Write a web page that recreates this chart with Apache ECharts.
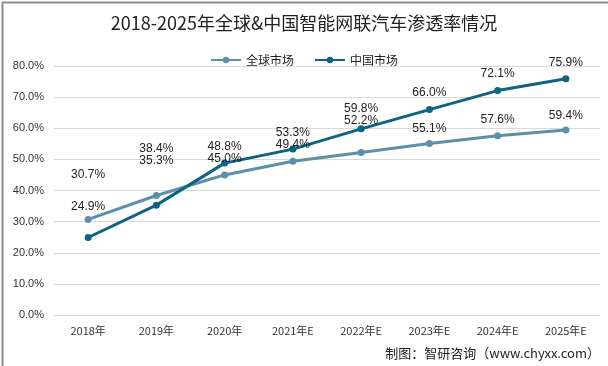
<!DOCTYPE html>
<html><head><meta charset="utf-8">
<script src="https://cdn.jsdelivr.net/npm/echarts@6/dist/echarts.min.js"></script>
<style>html,body{margin:0;padding:0;background:#fff}#c{width:608px;height:366px}</style>
</head><body><div id="c"></div>
<script>
const categories = ['2018年','2019年','2020年','2021年E','2022年E','2023年E','2024年E','2025年E'];
const globalMarket = [30.7, 38.4, 45.0, 49.4, 52.2, 55.1, 57.6, 59.4];
const chinaMarket = [24.9, 35.3, 48.8, 53.3, 59.8, 66.0, 72.1, 75.9];
const seriesNames = ['全球市场', '中国市场'];

const globalDist = [35, 37, 7, 7, 22, 5, 7, 5];
const chinaDist = [21, 35, 7, 7, 11, 7, 7, 7];

function mk(vals, dists) {
  return vals.map((v, i) => ({ value: v, label: { distance: dists[i] } }));
}
const chart = echarts.init(document.getElementById('c'));
chart.setOption({
  animation: false,
  title: { text: '2018-2025年全球&中国智能网联汽车渗透率情况', left: 'center', top: 9,
    textStyle: { fontSize: 18, fontWeight: 'normal', color: '#222', fontFamily: 'Noto Sans CJK SC' } },
  legend: { top: 49, left: 'center', itemWidth: 30, itemHeight: 8, itemGap: 20,
    textStyle: { fontSize: 12, color: '#222', fontFamily: 'Noto Sans CJK SC' } },
  grid: { left: 54, right: 8, top: 66, bottom: 51 },
  xAxis: { type: 'category', data: categories, boundaryGap: true,
    axisLine: { show: false }, axisTick: { show: false },
    axisLabel: { fontSize: 11, color: '#333', margin: 10, fontFamily: 'Noto Sans CJK SC' } },
  yAxis: { type: 'value', min: 0, max: 80, interval: 10,
    axisLabel: { formatter: v => v.toFixed(1) + '%', fontSize: 11, color: '#333', margin: 10 },
    splitLine: { lineStyle: { color: '#d9d9d9' } } },
  series: [
    { name: seriesNames[0], type: 'line', data: mk(globalMarket, globalDist), symbol: 'circle', symbolSize: 7,
      lineStyle: { width: 3, color: '#5b90aa' }, itemStyle: { color: '#5b90aa' },
      label: { show: true, position: 'top', formatter: p => p.value.toFixed(1) + '%', fontSize: 12, color: '#222' } },
    { name: seriesNames[1], type: 'line', data: mk(chinaMarket, chinaDist), symbol: 'circle', symbolSize: 7,
      lineStyle: { width: 3, color: '#0d6382' }, itemStyle: { color: '#0d6382' },
      label: { show: true, position: 'top', formatter: p => p.value.toFixed(1) + '%', fontSize: 12, color: '#222' } }
  ],
  graphic: [
    { type: 'rect', left: 0, top: 0, shape: { width: 607, height: 365 }, style: { fill: 'none', stroke: '#8c8c8c', lineWidth: 2 }, silent: true },
    { type: 'text', right: 8, bottom: 6, style: { text: '制图：智研咨询（www.chyxx.com）', fontSize: 13, fill: '#222', fontFamily: 'Noto Sans CJK SC' } }
  ]
});
</script></body></html>
